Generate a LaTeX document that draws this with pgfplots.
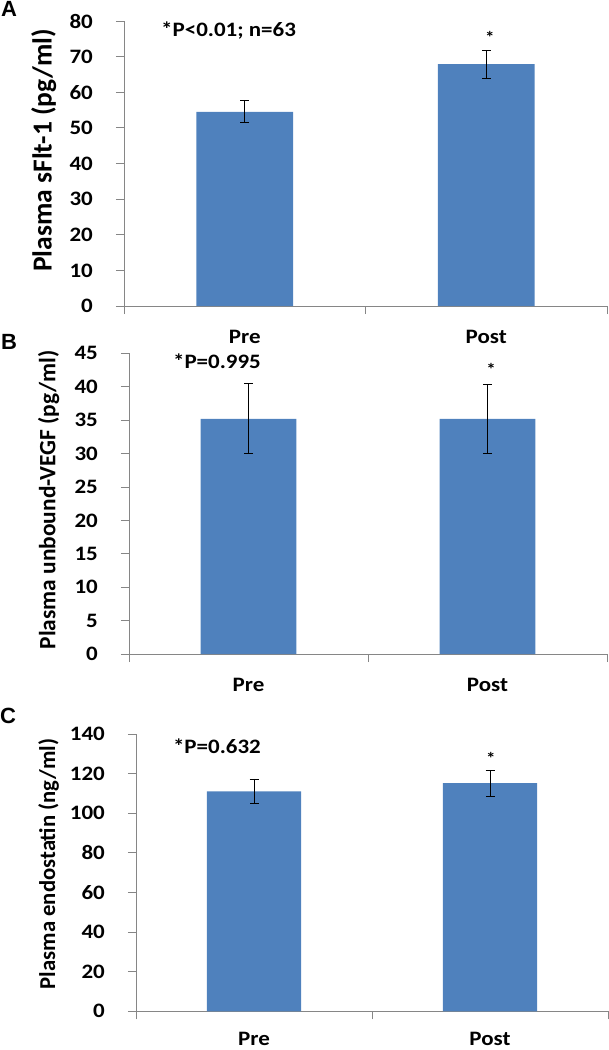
\documentclass[border=0pt]{standalone}
\usepackage{pgfplots}
\pgfplotsset{compat=1.18}
\usepackage{fontspec}
\setmainfont{Carlito}[FakeStretch=1.12]
\newfontfamily\labfont{Carlito}
\newfontfamily\panelfont{Liberation Sans}
\definecolor{barblue}{HTML}{4F81BD}
\definecolor{axisgray}{HTML}{868686}

\pgfplotsset{
  panel/.style={
    scale only axis,
    ybar, bar width=0.4,
    xmin=-0.5, xmax=1.5, ymin=0,
    axis x line*=bottom, axis y line*=left,
    axis line style={axisgray, line width=0.8pt},
    tick align=outside,
    major tick length=8pt,
    tick style={axisgray, line width=0.8pt},
    xtick={-0.5,0.5,1.5}, xticklabels={},
    extra x ticks={0,1}, extra x tick labels={Pre,Post},
    extra x tick style={major tick length=0pt},
    /pgf/number format/assume math mode=true,
    tick label style={font=\bfseries\fontsize{20.5}{24}\selectfont, text=black},
    xticklabel style={anchor=center, yshift=-31pt},
    yticklabel style={anchor=east, inner sep=0pt, xshift=-23pt},
    ylabel style={anchor=center},
  },
  errs/.style={fill=barblue, draw=none,
    error bars/.cd, y dir=both, y explicit,
    error bar style={black, line width=0.8pt},
    error mark options={rotate=90, mark size=4.5pt, black, line width=0.8pt}},
}
\newcommand{\note}{\bfseries\fontsize{20.5}{24}\selectfont}
\newcommand{\sigstar}{\bfseries\fontsize{17}{20}\selectfont *}

\begin{document}
\begin{tikzpicture}
\path[use as bounding box] (0,0) rectangle (609pt,-1050pt);

% panel A
\node[font=\panelfont\bfseries\fontsize{22}{24}\selectfont] at (9pt,-9pt) {A};
\begin{axis}[panel, at={(124pt,-306pt)}, anchor=south west,
    width=483pt, height=285pt, ymax=80, ytick distance=10,
    ylabel={Plasma sFlt-1 (pg/ml)},
    ylabel style={font=\labfont\bfseries\fontsize{27.5}{30}\selectfont,
      at={(axis description cs:-0.166,0.546)}}]
  \addplot[errs] coordinates {(0,54.5) +- (0,3.1) (1,67.9) +- (0,3.9)};
  \node[font=\note] at (axis cs:-0.067,77.4) {*P<0.01; n=63};
  \node at (axis cs:1.015,75.5) {\sigstar};
\end{axis}

% panel B
\node[font=\panelfont\bfseries\fontsize{22}{24}\selectfont] at (9pt,-342pt) {B};
\begin{axis}[panel, at={(129pt,-654pt)}, anchor=south west,
    width=478pt, height=300.7pt, ymax=45, ytick distance=5,
    ylabel={Plasma unbound-VEGF (pg/ml)},
    ylabel style={font=\labfont\bfseries\fontsize{23.4}{26}\selectfont,
      at={(axis description cs:-0.168,0.512)}}]
  \addplot[errs] coordinates {(0,35.2) +- (0,5.25) (1,35.2) +- (0,5.2)};
  \node[font=\note] at (axis cs:-0.132,43.8) {*P=0.995};
  \node at (axis cs:1.015,42.6) {\sigstar};
\end{axis}

% panel C
\node[font=\panelfont\bfseries\fontsize{22}{24}\selectfont] at (8pt,-716pt) {C};
\begin{axis}[panel, at={(136pt,-1011.3pt)}, anchor=south west,
    width=472pt, height=277.3pt, ymax=140, ytick distance=20,
    ylabel={Plasma endostatin (ng/ml)},
    ylabel style={font=\labfont\bfseries\fontsize{22.7}{26}\selectfont,
      at={(axis description cs:-0.185,0.531)}},
    xticklabel style={yshift=3.5pt}]
  \addplot[errs] coordinates {(0,111.1) +- (0,6.2) (1,115.2) +- (0,6.5)};
  \node[font=\note] at (axis cs:-0.157,133.6) {*P=0.632};
  \node at (axis cs:1.004,127.5) {\sigstar};
\end{axis}
\end{tikzpicture}
\end{document}
